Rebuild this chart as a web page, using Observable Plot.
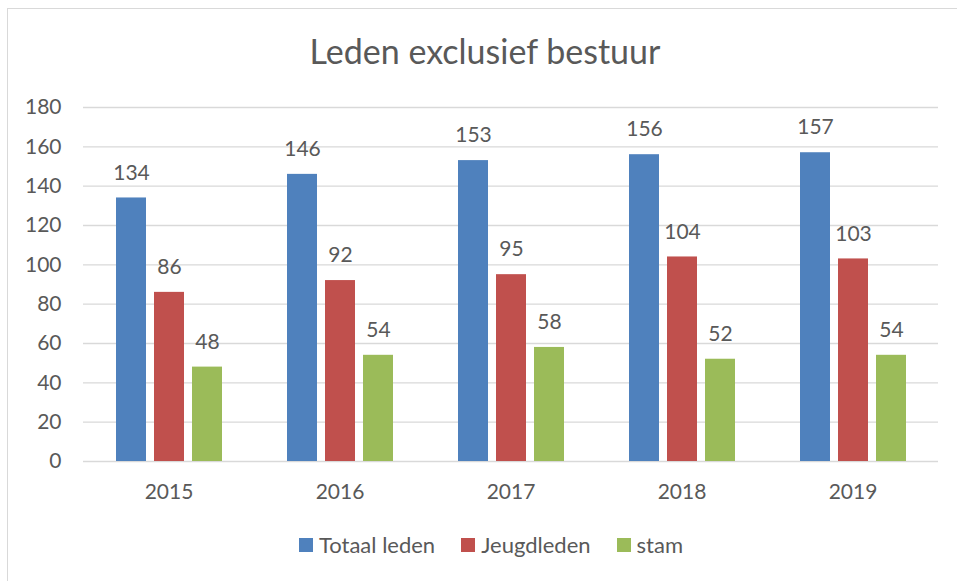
<!DOCTYPE html>
<html>
<head>
<meta charset="utf-8">
<script src="https://cdn.jsdelivr.net/npm/d3@7"></script>
<script src="https://cdn.jsdelivr.net/npm/@observablehq/plot@0.6"></script>
<style>
  html, body { margin: 0; padding: 0; background: #fff; }
  #wrap { position: relative; width: 957px; height: 581px; overflow: hidden; font-family: Lato, "Open Sans", sans-serif; color: #595959; }
  #border { position: absolute; left: 7px; top: 8px; width: 1000px; height: 700px; border: 1.5px solid #d9d9d9; box-sizing: border-box; }
  #title { position: absolute; left: 0; top: 28px; width: 970px; text-align: center; font-size: 34px; line-height: 46px; }
  #chart { position: absolute; left: 0; top: 90px; }
  #legend { position: absolute; left: 0; top: 532px; width: 982px; display: flex; justify-content: center; font-size: 22px; line-height: 26px; }
  .item { display: flex; align-items: center; margin: 0 13px; }
  .sw { width: 14px; height: 14px; margin-right: 6px; }
</style>
</head>
<body>
<div id="wrap">
  <div id="border"></div>
  <div id="title">Leden exclusief bestuur</div>
  <div id="chart"></div>
  <div id="legend"></div>
</div>
<script>
const years = ["2015", "2016", "2017", "2018", "2019"];
const seriesNames = ["Totaal leden", "Jeugdleden", "stam"];
const totaalLeden = [134, 146, 153, 156, 157];
const jeugdleden = [86, 92, 95, 104, 103];
const stam = [48, 54, 58, 52, 54];
const seriesColors = ["#4F81BD", "#C0504D", "#9BBB59"];
const yTicks = [0, 20, 40, 60, 80, 100, 120, 140, 160, 180];

const seriesValues = [totaalLeden, jeugdleden, stam];
const data = [];
years.forEach((y, i) => {
  seriesNames.forEach((s, j) => {
    data.push({year: y, series: s, value: seriesValues[j][i]});
  });
});

const plot = Plot.plot({
  width: 957,
  height: 420,
  marginTop: 17,
  marginBottom: 49,
  marginLeft: 83,
  marginRight: 19,
  style: {fontFamily: "Lato, 'Open Sans', sans-serif", fontSize: "21px", color: "#595959", background: "transparent"},
  fx: {domain: years, padding: 0, axis: "bottom", tickSize: 0, tickPadding: 23, label: null},
  x: {domain: seriesNames, axis: null, paddingInner: 0.22, paddingOuter: 0.86},
  y: {domain: [0, 180], ticks: yTicks, tickSize: 0, tickPadding: 22, label: null, tickFormat: d => String(d)},
  color: {domain: seriesNames, range: seriesColors},
  marks: [
    Plot.ruleY(yTicks, {stroke: "#d9d9d9", strokeWidth: 1.3}),
    Plot.barY(data, {fx: "year", x: "series", y: "value", fill: "series"}),
    Plot.text(data, {fx: "year", x: "series", y: "value", text: d => String(d.value), dy: -25, fontSize: 21, fill: "#595959"})
  ]
});
document.getElementById("chart").appendChild(plot);

const legend = document.getElementById("legend");
seriesNames.forEach((s, i) => {
  const item = document.createElement("div");
  item.className = "item";
  const sw = document.createElement("div");
  sw.className = "sw";
  sw.style.background = seriesColors[i];
  const label = document.createElement("span");
  label.textContent = s;
  item.appendChild(sw);
  item.appendChild(label);
  legend.appendChild(item);
});
</script>
</body>
</html>
